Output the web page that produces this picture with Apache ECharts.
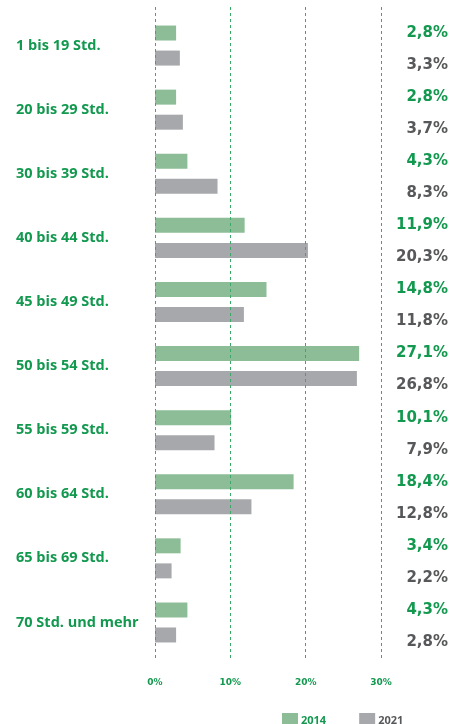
<!DOCTYPE html>
<html>
<head>
<meta charset="utf-8">
<script src="https://cdn.jsdelivr.net/npm/echarts@6/dist/echarts.min.js"></script>
<style>
  html, body { margin: 0; padding: 0; background: #fff; }
  #chart { width: 468px; height: 724px; }
</style>
</head>
<body>
<div id="chart"></div>
<script>
// Wochenarbeitszeit, Anteil in %
var categories = ['1 bis 19 Std.', '20 bis 29 Std.', '30 bis 39 Std.', '40 bis 44 Std.', '45 bis 49 Std.',
                  '50 bis 54 Std.', '55 bis 59 Std.', '60 bis 64 Std.', '65 bis 69 Std.', '70 Std. und mehr'];
var values2014 = [2.8, 2.8, 4.3, 11.9, 14.8, 27.1, 10.1, 18.4, 3.4, 4.3];
var values2021 = [3.3, 3.7, 8.3, 20.3, 11.8, 26.8, 7.9, 12.8, 2.2, 2.8];
var xTicks = [0, 10, 20, 30];

var green = '#13994f';
var greenBar = '#8dbd97';
var grayBar = '#a7a8ab';
var grayText = '#57585a';

function pct(v) {
    return v.toFixed(1).replace('.', ',') + '%';
}

var chart = echarts.init(document.getElementById('chart'));

var option = {
    backgroundColor: '#fff',
    animation: false,
    legend: {
        left: 277,
        top: 708,
        itemWidth: 16,
        itemHeight: 16,
        itemGap: 33,
        icon: 'rect',
        data: [
            {name: '2014', textStyle: {color: green}},
            {name: '2021', textStyle: {color: grayText}}
        ],
        textStyle: {fontFamily: 'Open Sans', fontWeight: 'bold', fontSize: 11, padding: [0, 0, 0, -2]}
    },
    grid: [
        {left: 155, right: 87, top: 13.5, bottom: 69.5},
        {left: 155, right: 87, top: 7, bottom: 64}
    ],
    xAxis: [
        {
            gridIndex: 0, type: 'value', min: 0, max: 30, interval: 10,
            show: false
        },
        {
            gridIndex: 1, type: 'value', min: xTicks[0], max: xTicks[xTicks.length - 1], interval: 10,
            z: 10,
            axisLine: {show: false},
            axisTick: {show: false},
            splitLine: {show: true, lineStyle: {color: '#3aa96a', type: [3, 3], width: 1}},
            axisLabel: {
                margin: 18,
                color: green,
                fontFamily: 'DejaVu Sans',
                fontWeight: 'bold',
                fontSize: 9,
                formatter: '{value}%'
            }
        }
    ],
    yAxis: [
        {
            gridIndex: 0, type: 'category', inverse: true, data: categories,
            position: 'left',
            axisLine: {show: false},
            axisTick: {show: false},
            axisLabel: {
                margin: 139,
                align: 'left',
                color: green,
                fontFamily: 'Open Sans',
                fontWeight: 'bold',
                fontSize: 14.5
            }
        },
        {
            gridIndex: 0, type: 'category', inverse: true, data: categories,
            position: 'right',
            axisLine: {show: false},
            axisTick: {show: false},
            axisLabel: {
                margin: 67,
                align: 'right',
                padding: [7, 0, 0, 0],
                formatter: function (v, i) {
                    return '{a|' + pct(values2014[i]) + '}\n{b|' + pct(values2021[i]) + '}';
                },
                rich: {
                    a: {color: green, fontFamily: 'DejaVu Sans', fontWeight: 'bold', fontSize: 15, lineHeight: 32, align: 'right'},
                    b: {color: grayText, fontFamily: 'DejaVu Sans', fontWeight: 'bold', fontSize: 15, lineHeight: 32, align: 'right'}
                }
            }
        },
        {
            gridIndex: 1, type: 'category', data: categories, show: false
        }
    ],
    series: [
        {
            name: '2014', type: 'bar', xAxisIndex: 0, yAxisIndex: 0,
            data: values2014, barWidth: 15, barGap: '67%',
            itemStyle: {color: greenBar}
        },
        {
            name: '2021', type: 'bar', xAxisIndex: 0, yAxisIndex: 0,
            data: values2021, barWidth: 15, barGap: '67%',
            itemStyle: {color: grayBar}
        }
    ]
};

chart.setOption(option);
</script>
</body>
</html>
